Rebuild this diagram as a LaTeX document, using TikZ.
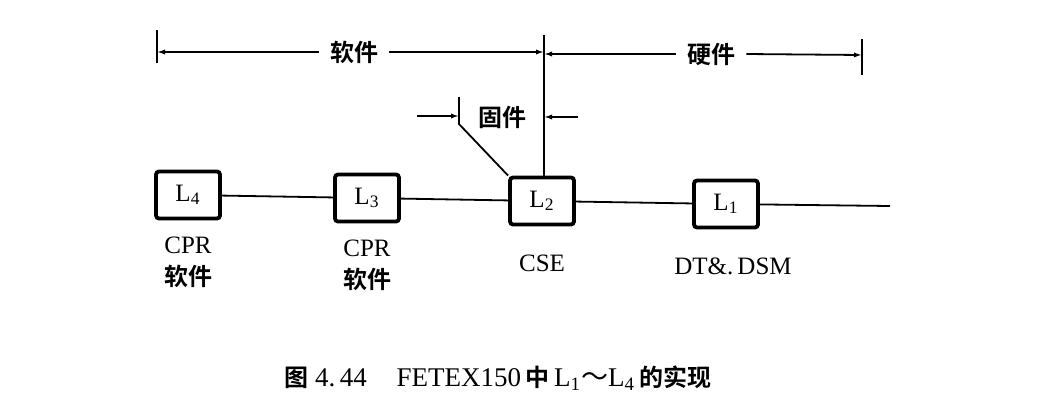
\documentclass[tikz,border=0pt]{standalone}
\usepackage{fontspec}
\setmainfont{Liberation Serif}
\newfontfamily\cjk{Noto Sans CJK SC}[BoldFont={Noto Sans CJK SC Bold}]
\usetikzlibrary{arrows.meta}
\begin{document}
\begin{tikzpicture}[x=0.5pt,y=-0.5pt,
  line/.style={line width=0.9pt},
  arr/.style={line width=0.9pt,-{Latex[length=4pt,width=2.6pt]}},
  lbox/.style={draw,line width=1.9pt,rounded corners=1.5pt,minimum width=32pt,minimum height=23.5pt,inner sep=0pt,font=\fontsize{12.5pt}{14pt}\selectfont},
  lat/.style={font=\fontsize{12.5pt}{14pt}\selectfont,inner sep=0pt},
  cj/.style={font=\cjk\bfseries\fontsize{12pt}{14pt}\selectfont,inner sep=0pt},
  dimtxt/.style={font=\cjk\bfseries\fontsize{12pt}{14pt}\selectfont,inner sep=5.5pt}]
\useasboundingbox (0,0) rectangle (1051,403);
% boxes
\node[lbox] (L4) at (188,195) {L\textsubscript{4}};
\node[lbox] (L3) at (367,198) {L\textsubscript{3}};
\node[lbox] (L2) at (542,201) {L\textsubscript{2}};
\node[lbox] (L1) at (726,204) {L\textsubscript{1}};
\coordinate (end) at (890,206);
\draw[line] (L4) -- (L3);
\draw[line] (L3) -- (L2);
\draw[line] (L2) -- (L1);
\draw[line] (L1) -- (end);
% labels
\node[lat] (c4) at (188,245) {CPR};
\node[cj] (s4) at (188,276) {软件};
\node[lat] (c3) at (367,248) {CPR};
\node[cj] (s3) at (367,279) {软件};
\node[lat] (cse) at (542,263) {CSE};
\node[lat] (dt) at (733,266) {DT\&.\,DSM};
% top dimension lines
\coordinate (lt1) at (157,30); \coordinate (lt2) at (157,63); \coordinate (ls) at (157,52);
\draw[line] (lt1) -- (lt2);
\node[dimtxt] (sw) at (354,52) {软件};
\coordinate (vt) at (544,35); \coordinate (vm) at (544,52); \coordinate (vh) at (544,54);
\draw[line] (vt) -- (L2.north -| vt);
\draw[arr] (sw.west) -- (ls);
\draw[arr] (sw.east) -- (vm);
\node[dimtxt] (hw) at (711,54) {硬件};
\coordinate (rt1) at (862,39); \coordinate (rt2) at (862,75); \coordinate (rs) at (862,55);
\draw[line] (rt1) -- (rt2);
\draw[arr] (hw.west) -- (vh);
\draw[arr] (hw.east) -- (rs);
% firmware
\node[dimtxt,inner sep=0pt] (fw) at (502,117) {固件};
\coordinate (ft) at (459,97); \coordinate (fb) at (459,124); \coordinate (fm) at (459,116);
\coordinate (fa) at (417,116); \coordinate (fr) at (578,117); \coordinate (fv) at (544,117);
\draw[line] (ft) -- (fb) -- (L2.north west);
\draw[arr] (fa) -- (fm);
\draw[arr] (fr) -- (fv);
% caption
\node[inner sep=0pt,font=\fontsize{13.5pt}{15pt}\selectfont] (cap) at (498,378)
  {{\cjk\bfseries\fontsize{12pt}{14pt}\selectfont 图} 4.\,44\hspace{1.1em}FETEX150\,{\cjk\bfseries\fontsize{12pt}{14pt}\selectfont 中}\,L\textsubscript{1}{\cjk ～}L\textsubscript{4}\,{\cjk\bfseries\fontsize{12pt}{14pt}\selectfont 的实现}};
\end{tikzpicture}
\end{document}
